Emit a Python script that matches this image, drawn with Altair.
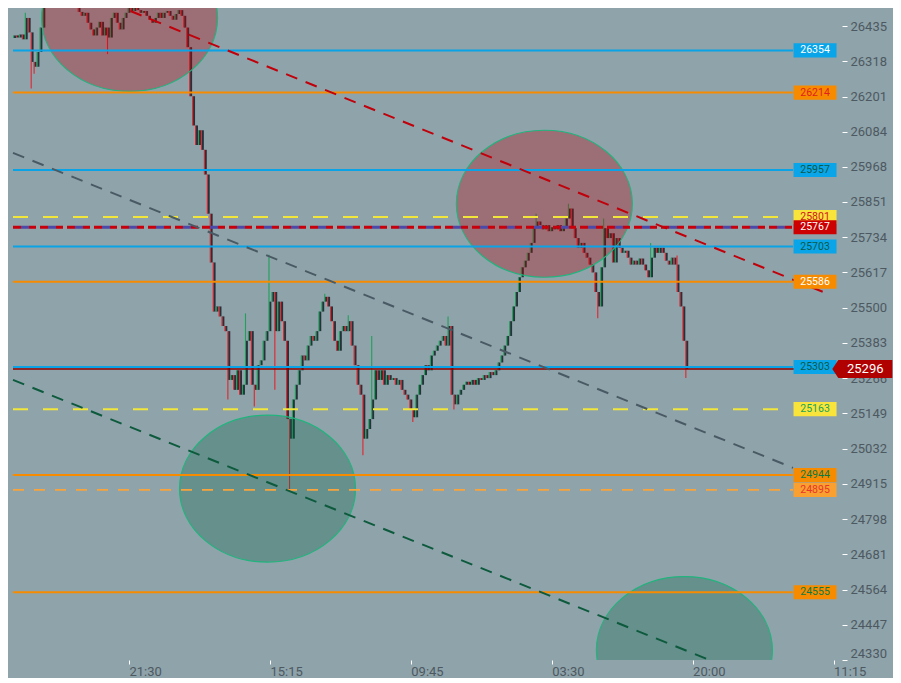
import altair as alt
import pandas as pd

BG = "#8fa3ab"
AXIS_GREY = "#4d5960"

# closing price of every bar (bar index 0..229)
close = [
    26404, 26397, 26407, 26391, 26462, 26414, 26316, 26300, 26349, 26430,
    26515, 26528, 26534, 26521, 26540, 26528, 26515, 26534, 26521, 26508,
    26495, 26505, 26482, 26469, 26479, 26446, 26424, 26404, 26430, 26449,
    26404, 26430, 26397, 26462, 26479, 26446, 26424, 26462, 26479, 26495,
    26485, 26502, 26488, 26479, 26485, 26469, 26456, 26446, 26462, 26479,
    26462, 26479, 26485, 26469, 26456, 26475, 26488, 26469, 26430,
    26365, 26202, 26105, 26040, 26089, 26024, 25942, 25812, 25650, 25487, 25504, 25471, 25439,
    25422, 25260, 25276, 25227, 25292, 25211, 25244, 25390, 25422, 25244,
    25227, 25309, 25325, 25390, 25422, 25520, 25552, 25422, 25520, 25455,
    25390, 25130, 25065, 25195, 25244, 25292, 25341, 25325, 25374, 25406,
    25390, 25422, 25487, 25520, 25536, 25504, 25455, 25390, 25357, 25422,
    25439, 25422, 25455, 25374, 25309, 25244, 25211, 25065, 25097, 25130,
    25195, 25292, 25260, 25292, 25244, 25276, 25260, 25266, 25244, 25260,
    25227, 25211, 25195, 25162, 25136, 25211, 25244, 25276, 25309, 25292,
    25341, 25357, 25374, 25390, 25406, 25374, 25439, 25211, 25179, 25211,
    25227, 25244, 25254, 25244, 25260, 25244, 25266, 25260, 25276, 25266,
    25286, 25276, 25292, 25318, 25341, 25374, 25406, 25455,
    25504, 25552, 25601, 25634, 25656, 25682, 25715, 25764, 25786, 25774,
    25760, 25774, 25754, 25767, 25760, 25774, 25754, 25767, 25796, 25829,
    25764, 25731, 25699, 25715, 25682, 25666, 25643, 25617, 25552, 25504,
    25634, 25764, 25731, 25747, 25650, 25731, 25699, 25682, 25689, 25666,
    25643, 25656, 25643, 25663, 25643, 25624, 25601, 25666, 25699, 25682,
    25699, 25682, 25656, 25643, 25666, 25643, 25552, 25504, 25390, 25296,
]
first_open = 26395

# long wicks
hi_idx = [4, 79, 87, 106, 114, 122, 148, 178, 189, 201, 217, 226]
hi_val = [26479, 25481, 25676, 25546, 25475, 25406, 25471, 25812, 25845, 25796, 25715, 25673]
lo_idx = [6, 7, 32, 73, 82, 89, 94, 119, 136, 150, 199, 229]
lo_val = [26228, 26277, 26342, 25195, 25172, 25227, 24893, 25010, 25120, 25162, 25465, 25266]

time_ticks = [39, 87, 135, 183, 231, 279]
time_labels = ["21:30", "15:15", "09:45", "03:30", "20:00", "11:15"]

price_ticks = [24330, 24447, 24564, 24681, 24798, 24915, 25032, 25149, 25266, 25383,
               25500, 25617, 25734, 25851, 25968, 26084, 26201, 26318, 26435]

blue_levels = [26354, 25957, 25703, 25303]
orange_levels = [26214, 25586, 24944, 24555]
yellow_levels = [25801, 25163]
light_orange_levels = [24895]
red_level = 25767
last_price = 25296

tag_price = [26354, 26214, 25957, 25801, 25767, 25703, 25586, 25303, 25163, 24944, 24895, 24555]
tag_fill = ["#0aa5e8", "#f78b00", "#0aa5e8", "#f9e43c", "#cc0000", "#0aa5e8",
            "#f78b00", "#0aa5e8", "#f9e43c", "#f78b00", "#f9a030", "#f78b00"]
tag_ink = ["#ffffff", "#e0201e", "#0b5a4a", "#d0161e", "#ffffff", "#0b5a4a",
           "#ffffff", "#0b5a4a", "#17a35a", "#0b7a45", "#e8352a", "#0b7a45"]

# trend lines: start bar, start price, end bar, end price
trend_x1 = [39.5, -0.5, -0.5]
trend_p1 = [26485, 26014, 25260]
trend_x2 = [277.8, 265.2, 236.8]
trend_p2 = [25543, 24968, 24330]
trend_col = ["#c0000a", "#4a5a64", "#0d5a3d"]

# zones
zone_x = [39.2, 180.5, 86.2, 228.2]
zone_p = [26462, 25845, 24899, 24363]
zone_col = ["#b80005", "#b80005", "#0b6b4a", "#0b6b4a"]

opens = [first_open] + close[:-1]
highs = [max(o, c) for o, c in zip(opens, close)]
lows = [min(o, c) for o, c in zip(opens, close)]
for i, v in zip(hi_idx, hi_val):
    highs[i] = v
for i, v in zip(lo_idx, lo_val):
    lows[i] = v

bars = pd.DataFrame({
    "i": list(range(len(close))),
    "open": opens, "close": close, "high": highs, "low": lows,
    "col": ["#20a05a" if c >= o else "#e3242b" for o, c in zip(opens, close)],
})

xs = alt.Scale(domain=[-0.5, 279.5], nice=False, zero=False)
ys = alt.Scale(domain=[24330, 26495], nice=False, zero=False)

label_map = "{" + ",".join(f"'{t}':'{l}'" for t, l in zip(time_ticks, time_labels)) + "}"
xaxis = alt.Axis(values=time_ticks, labelExpr=label_map + "[datum.value]", labelAlign="left",
                 labelColor=AXIS_GREY, labelFont="Roboto", labelFontSize=13, tickColor="white",
                 tickSize=4, domain=False, grid=False, title=None, labelPadding=1)
yaxis = alt.Axis(orient="right", values=price_ticks, format="d", labelColor=AXIS_GREY,
                 labelFont="Roboto", labelFontSize=13, tickColor="white", tickSize=5,
                 domain=False, grid=False, title=None, labelPadding=3, offset=2, labelFlush=True)

X = lambda f: alt.X(f, type="quantitative", scale=xs, axis=xaxis)
Y = lambda f: alt.Y(f, type="quantitative", scale=ys, axis=yaxis)

bodies = alt.Chart(bars).mark_bar(width=2.2, xOffset=0.4, color="#26313a", clip=True).encode(
    x=X("i"), y=Y("open"), y2="close")
wicks = alt.Chart(bars).mark_rule(strokeWidth=1.1, xOffset=-0.9, clip=True).encode(
    x=X("i"), y=Y("low"), y2="high", color=alt.Color("col:N", scale=None))

ELLIPSE = ("M 1 0 C 1 0.461 0.5523 0.835 0 0.835 C -0.5523 0.835 -1 0.461 -1 0 "
           "C -1 -0.461 -0.5523 -0.835 0 -0.835 C 0.5523 -0.835 1 -0.461 1 0 Z")
zones = alt.Chart(pd.DataFrame({"i": zone_x, "p": zone_p, "c": zone_col})).mark_point(
    shape=ELLIPSE, size=176 ** 2, filled=True, opacity=1, fillOpacity=0.32,
    stroke="#21b47d", strokeWidth=1.2, strokeOpacity=1, clip=True).encode(
    x=X("i"), y=Y("p"), fill=alt.Fill("c:N", scale=None))


def levels(values, color, width, dash=None, x_end=265.2):
    kw = dict(color=color, strokeWidth=width, clip=True)
    if dash:
        kw["strokeDash"] = dash
    return alt.Chart(pd.DataFrame({"p": values})).mark_rule(**kw).encode(
        x=alt.X(datum=-0.5, type="quantitative", scale=xs, axis=xaxis),
        x2=alt.datum(x_end), y=Y("p"))


lines = [
    levels(blue_levels, "#0aa3e6", 2),
    levels(orange_levels, "#f78b00", 2),
    levels(yellow_levels, "#f2e63a", 2, [15, 15]),
    levels(light_orange_levels, "#f9a43a", 1.6, [11, 10]),
    levels([red_level], "#4b4aa8", 3, [0, 8, 8, 11]),
    levels([red_level], "#c8000b", 3, [8, 8, 7, 4]),
    levels([last_price], "#8b0000", 1.5, None, 279.5),
]

trends = alt.Chart(pd.DataFrame({"x1": trend_x1, "p1": trend_p1, "x2": trend_x2, "p2": trend_p2,
                                 "c": trend_col})).mark_rule(
    strokeWidth=2, strokeDash=[12, 9], clip=True).encode(
    x=X("x1"), y=Y("p1"), x2="x2", y2="p2", color=alt.Color("c:N", scale=None))

RECT = "M -1 -0.33 L 1 -0.33 L 1 0.33 L -1 0.33 Z"
tags = pd.DataFrame({"p": tag_price, "fill": tag_fill, "ink": tag_ink, "t": [str(v) for v in tag_price]})
tag_box = alt.Chart(tags).mark_point(shape=RECT, size=43 ** 2, filled=True, opacity=1).encode(
    x=alt.X(datum=272.7, type="quantitative", scale=xs, axis=xaxis), y=Y("p"),
    fill=alt.Fill("fill:N", scale=None))
tag_text = alt.Chart(tags).mark_text(font="Roboto", fontSize=10.5, align="center", baseline="middle").encode(
    x=alt.X(datum=272.7, type="quantitative", scale=xs, axis=xaxis), y=Y("p"),
    text="t:N", color=alt.Color("ink:N", scale=None))

ARROW = "M -1 0 L -0.8 -0.3 L 1 -0.3 L 1 0.3 L -0.8 0.3 Z"
last_df = pd.DataFrame({"p": [last_price], "t": [str(last_price)]})
last_box = alt.Chart(last_df).mark_point(shape=ARROW, size=60 ** 2, filled=True, opacity=1,
                                         color="#b00000").encode(
    x=alt.X(datum=288.8, type="quantitative", scale=xs, axis=xaxis), y=Y("p"))
last_text = alt.Chart(last_df).mark_text(font="Roboto", fontSize=13, color="white",
                                         align="center", baseline="middle").encode(
    x=alt.X(datum=289.8, type="quantitative", scale=xs, axis=xaxis), y=Y("p"), text="t:N")

chart = alt.layer(
    bodies, wicks, zones, *lines, trends, tag_box, tag_text, last_box, last_text
).properties(
    width=832, height=652, background=BG,
    padding={"left": 0, "top": 0, "right": 0, "bottom": 0},
).configure_view(stroke=None, fill=BG)

chart.save("out.html", embed_options={"renderer": "svg", "actions": False})
